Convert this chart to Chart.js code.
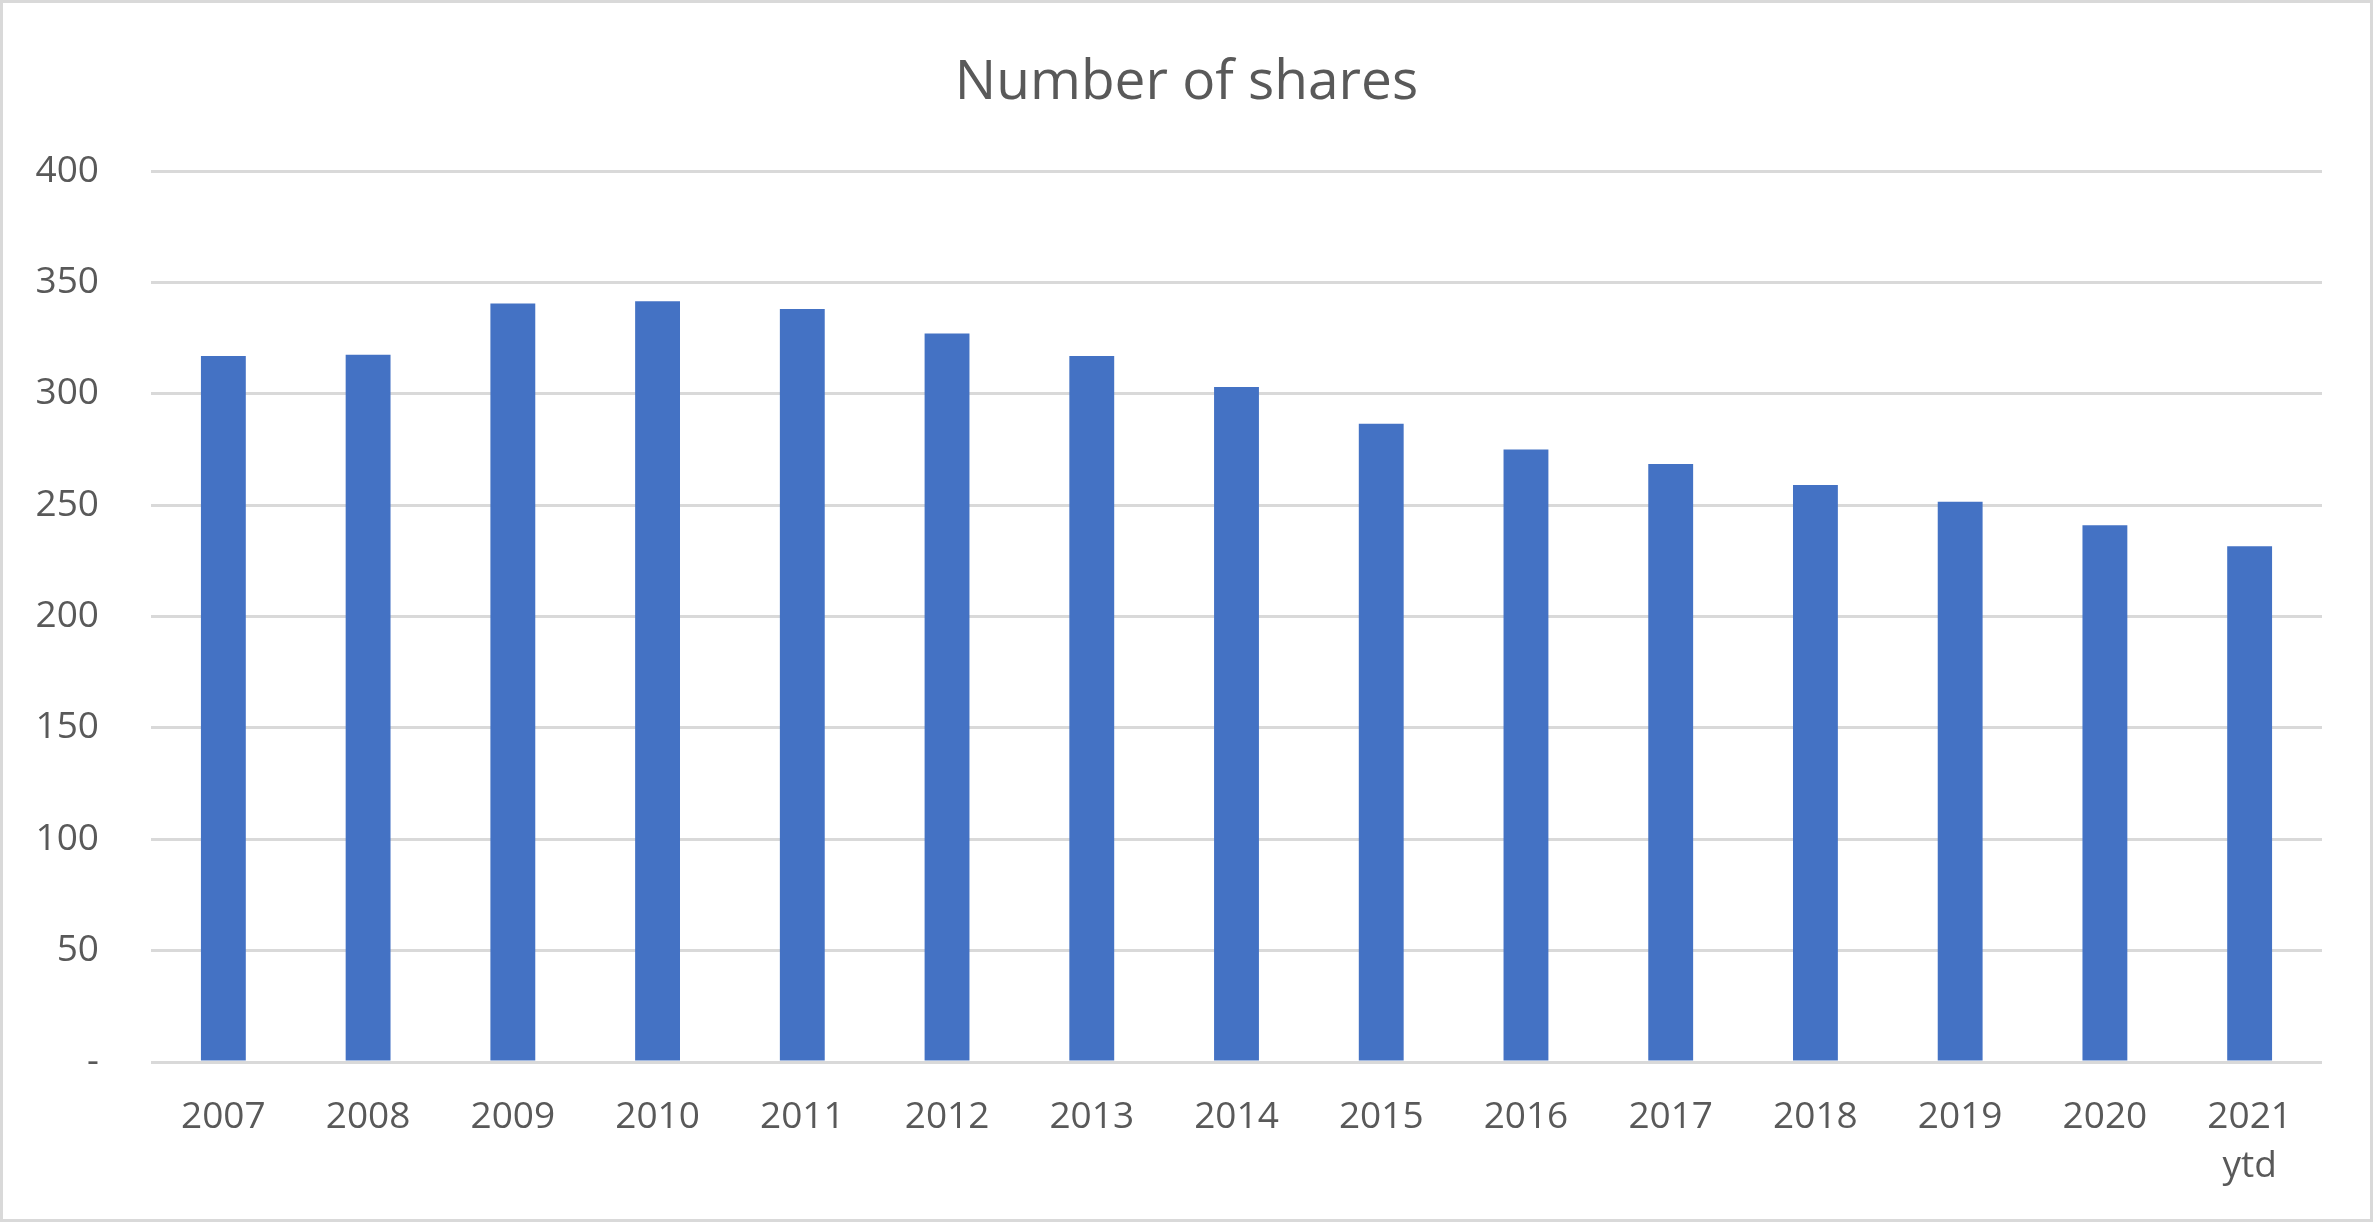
<!DOCTYPE html>
<html>
<head>
<meta charset="utf-8">
<title>Number of shares</title>
<script src="https://cdn.jsdelivr.net/npm/chart.js@4/dist/chart.umd.min.js"></script>
<style>
    html, body { margin: 0; padding: 0; background: #ffffff; }
    #chart { display: block; }
</style>
</head>
<body>
<canvas id="chart" width="2373" height="1222"></canvas>
<script>
// --- Data ---
const years = ['2007', '2008', '2009', '2010', '2011', '2012', '2013', '2014',
    '2015', '2016', '2017', '2018', '2019', '2020', ['2021', 'ytd']];
const shares = [317, 317.5, 340.5, 341.5, 338, 327, 317, 303,
    286.5, 275, 268.5, 259, 251.5, 241, 231.5];
const yTicks = [0, 50, 100, 150, 200, 250, 300, 350, 400];

const TEXT = '#595959';
const GRID = '#d9d9d9';
const BAR = '#4472c4';
const FONT = "'Open Sans', sans-serif";

// light grey frame round the whole chart, like the Excel chart border
const framePlugin = {
    id: 'frame',
    afterDraw(chart) {
        const ctx = chart.ctx;
        ctx.save();
        ctx.strokeStyle = GRID;
        ctx.lineWidth = 3;
        ctx.strokeRect(1.5, 1.5, chart.width - 3, chart.height - 3);
        ctx.restore();
    }
};

const ctx = document.getElementById('chart');
const chart = new Chart(ctx, {
    type: 'bar',
    data: {
        labels: years,
        datasets: [{
            label: 'Number of shares',
            data: shares,
            backgroundColor: BAR,
            borderWidth: 0,
            categoryPercentage: 1,
            barPercentage: 0.31
        }]
    },
    options: {
        responsive: false,
        animation: false,
        devicePixelRatio: 1,
        layout: { padding: 0 },
        plugins: {
            legend: { display: false },
            tooltip: { enabled: false },
            title: {
                display: true,
                text: 'Number of shares',
                color: TEXT,
                font: { family: FONT, size: 55, weight: 'normal' },
                padding: { top: 50, bottom: 55 }
            }
        },
        scales: {
            x: {
                grid: { display: false, drawTicks: false },
                border: { display: false },
                ticks: {
                    color: TEXT,
                    font: { family: FONT, size: 37, lineHeight: 1.32 },
                    padding: 31,
                    maxRotation: 0,
                    autoSkip: false
                },
                afterFit(scale) { scale.height = 160; }
            },
            y: {
                min: 0,
                max: 400,
                afterBuildTicks(scale) {
                    scale.ticks = yTicks.map(v => ({ value: v }));
                },
                grid: { color: GRID, lineWidth: 3, drawTicks: false },
                border: { display: false },
                ticks: {
                    color: TEXT,
                    font: { family: FONT, size: 37 },
                    padding: 52,
                    callback: v => (v === 0 ? '-' : v)
                },
                afterFit(scale) { scale.width = 151; }
            },
            // empty right-hand strip so the title stays centred on the canvas
            spacer: {
                position: 'right',
                grid: { display: false, drawTicks: false },
                border: { display: false },
                ticks: { display: false },
                afterFit(scale) { scale.width = 51; }
            }
        }
    },
    plugins: [framePlugin]
});
</script>
</body>
</html>
